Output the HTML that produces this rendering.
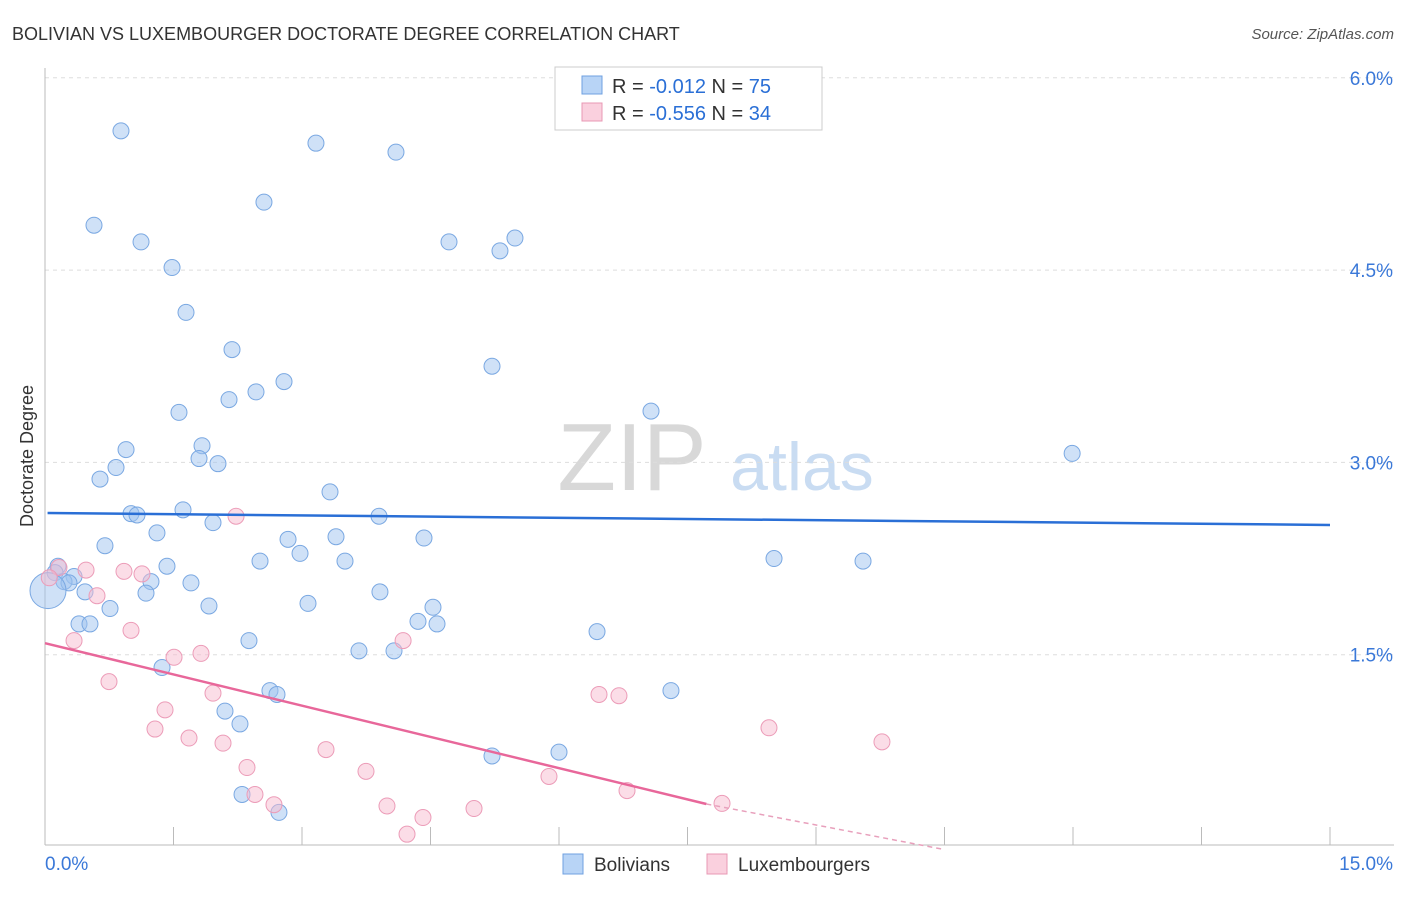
<!DOCTYPE html>
<html><head><meta charset="utf-8"><style>
body{margin:0;background:#fff;font-family:"Liberation Sans",sans-serif}
svg text{font-family:"Liberation Sans",sans-serif}
</style></head><body>
<svg id="chart" width="1406" height="892" viewBox="0 0 1406 892" xmlns="http://www.w3.org/2000/svg">
<text x="12" y="40" font-size="18" fill="#333">BOLIVIAN VS LUXEMBOURGER DOCTORATE DEGREE CORRELATION CHART</text>
<text x="1394" y="39" font-size="15" fill="#555" font-style="italic" text-anchor="end">Source: ZipAtlas.com</text>
<text x="33" y="456" font-size="18" fill="#333" text-anchor="middle" transform="rotate(-90 33 456)">Doctorate Degree</text>
<g>
<text x="632" y="490" font-size="96" fill="#d8d8d8" font-family="Liberation Serif" text-anchor="middle">ZIP</text>
<text x="802" y="490" font-size="68" fill="#c9dcf2" text-anchor="middle">atlas</text>
</g>
<g id="grid"></g><g id="axes"></g><g id="marks"></g>
<g>
<rect x="555" y="67" width="267" height="63" fill="#fff" stroke="#ccc"/>
<rect x="582" y="76" width="20" height="18" fill="#b8d4f6" stroke="#6fa0e0"/>
<text x="612" y="93" font-size="20" fill="#333">R = <tspan fill="#2a6fd6">-0.012</tspan>   N = <tspan fill="#2a6fd6">75</tspan></text>
<rect x="582" y="103" width="20" height="18" fill="#fad0de" stroke="#e898b4"/>
<text x="612" y="120" font-size="20" fill="#333">R = <tspan fill="#2a6fd6">-0.556</tspan>   N = <tspan fill="#2a6fd6">34</tspan></text>
</g>
<g>
<rect x="563" y="854" width="20" height="20" fill="#b8d4f6" stroke="#6fa0e0"/>
<text x="594" y="871" font-size="19" fill="#333">Bolivians</text>
<rect x="707" y="854" width="20" height="20" fill="#fad0de" stroke="#e898b4"/>
<text x="738" y="871" font-size="19" fill="#333">Luxembourgers</text>
</g>
</svg>
<script>
const yTicks=[1.5,3.0,4.5,6.0];
const yTickLabels=["1.5%","3.0%","4.5%","6.0%"];
const xTickLabels=["0.0%","15.0%"];
const blueX=[0.887,3.163,4.097,0.572,2.556,1.121,4.716,5.311,5.486,1.483,1.646,2.183,5.218,2.790,2.463,2.148,1.564,7.074,0.946,1.833,1.798,2.019,0.829,0.642,11.99,3.327,1.004,1.074,1.611,3.899,1.961,1.307,2.837,3.397,4.424,0.700,2.977,2.510,3.502,8.510,9.549,0.152,1.424,0.117,0.339,0.222,0.280,1.237,1.704,0.467,1.179,3.910,0.759,1.914,3.07,4.529,0.397,0.525,4.354,4.576,6.444,2.381,3.665,4.074,1.366,7.307,2.626,2.708,2.101,2.276,6.0,5.218,2.300,2.731,0.035];
const blueY=[5.586,5.49,5.42,4.85,5.03,4.72,4.72,4.65,4.75,4.52,4.17,3.88,3.75,3.63,3.55,3.49,3.39,3.40,3.10,3.13,3.03,2.99,2.96,2.87,3.07,2.77,2.60,2.59,2.63,2.58,2.53,2.45,2.40,2.42,2.41,2.35,2.29,2.23,2.23,2.25,2.23,2.19,2.19,2.14,2.11,2.07,2.06,2.07,2.06,1.99,1.98,1.99,1.86,1.88,1.90,1.87,1.74,1.74,1.76,1.74,1.68,1.61,1.53,1.53,1.40,1.22,1.22,1.19,1.06,0.96,0.74,0.71,0.41,0.27,2.00];
const pinkX=[0.163,0.479,0.922,1.132,0.607,2.230,1.004,0.339,4.180,1.506,1.821,0.747,1.961,6.467,6.700,1.401,1.284,8.451,1.681,2.078,9.770,3.280,2.358,3.747,5.883,2.451,6.794,2.673,3.992,5.008,7.903,4.412,4.226,0.05];
const pinkY=[2.18,2.16,2.15,2.13,1.96,2.58,1.69,1.61,1.61,1.48,1.51,1.29,1.20,1.19,1.18,1.07,0.92,0.93,0.85,0.81,0.82,0.76,0.62,0.59,0.55,0.41,0.44,0.33,0.32,0.30,0.34,0.23,0.10,2.10];
const blueTrend=[2.605,2.512];
const pinkTrend=[1.59,-0.035];
const X0=45,X1=1330,Y0=847,PY=128.2;
const sx=v=>X0+v*(X1-X0)/15;
const sy=v=>Y0-v*PY;
const NS="http://www.w3.org/2000/svg";
function mk(tag,attrs,parent){const e=document.createElementNS(NS,tag);for(const k in attrs)e.setAttribute(k,attrs[k]);parent.appendChild(e);return e;}
const grid=document.getElementById('grid'),axes=document.getElementById('axes'),marks=document.getElementById('marks');
yTicks.forEach((t,i)=>{
  const l=mk('line',{x1:45,x2:1394,y1:sy(t),y2:sy(t),stroke:'#ddd','stroke-dasharray':'4 4'},grid);
  
  
  const tx=mk('text',{x:1393,y:sy(t)+7,'font-size':19,fill:'#3a78d8','text-anchor':'end'},axes);
  tx.textContent=yTickLabels[i];
  
  
});
const ax=mk('line',{x1:45,x2:45,y1:68,y2:845,stroke:'#bbb'},axes);


const bx=mk('line',{x1:45,x2:1394,y1:845,y2:845,stroke:'#bbb'},axes);


for(let i=0;i<=10;i++){
  const tk=mk('line',{x1:sx(i*1.5),x2:sx(i*1.5),y1:827,y2:845,stroke:'#bbb'},axes);
  
  
}
[[45,'start'],[1393,'end']].forEach((p,i)=>{
  const tx=mk('text',{x:p[0],y:870,'font-size':19,fill:'#3a78d8','text-anchor':p[1]},axes);
  tx.textContent=xTickLabels[i];
  
  
});
blueX.forEach((x,i)=>{
  const big=i===blueX.length-1;
  const c=mk('circle',{cx:sx(x),cy:sy(blueY[i]),r:big?18:8,fill:'rgba(160,196,240,0.5)',stroke:'#7aa8e2','stroke-width':1},marks);
  
  
});
pinkX.forEach((x,i)=>{
  const c=mk('circle',{cx:sx(x),cy:sy(pinkY[i]),r:8,fill:'rgba(248,188,208,0.5)',stroke:'#ec9cb8','stroke-width':1},marks);
  
  
});
const bl=mk('line',{x1:sx(0.03),y1:sy(blueTrend[0]),x2:sx(15),y2:sy(blueTrend[1]),stroke:'#2a6fd6','stroke-width':2.5},marks);


const pf=x=>pinkTrend[0]+(pinkTrend[1]-pinkTrend[0])*x/10;
const pl=mk('line',{x1:sx(0),y1:sy(pf(0)),x2:sx(7.72),y2:sy(pf(7.72)),stroke:'#e8679a','stroke-width':2.5},marks);


const pd=mk('line',{x1:sx(7.72),y1:sy(pf(7.72)),x2:sx(10.5),y2:sy(Math.max(pf(10.5),-0.02)),stroke:'#e8a0bc','stroke-width':1.5,'stroke-dasharray':'5 4'},marks);


</script>
</body></html>
